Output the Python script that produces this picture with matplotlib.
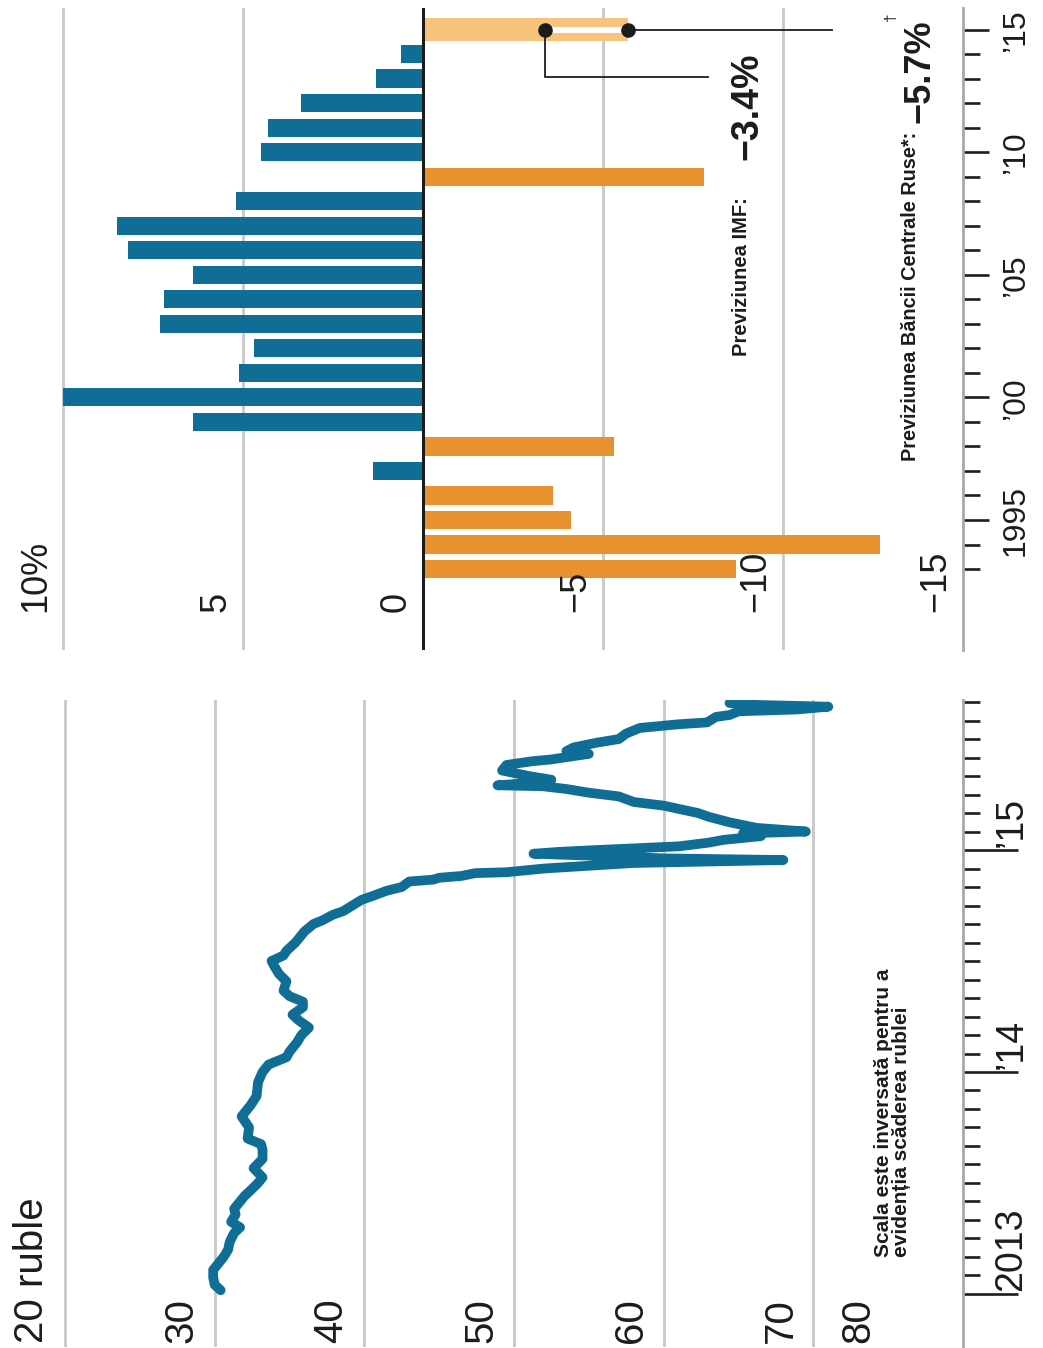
# %%

import numpy as np
import matplotlib
matplotlib.use('Agg')
import matplotlib.pyplot as plt

# %%   ***** DATA *****

# Russia, GDP growth in %, 1993-2014
gdp_years = np.arange(1993, 2015)
gdp_growth = [-8.7, -12.7, -4.1, -3.6, 1.4, -5.3, 6.4, 10.0, 5.1, 4.7, 7.3,
              7.2, 6.4, 8.2, 8.5, 5.2, -7.8, 4.5, 4.3, 3.4, 1.3, 0.6]

# forecasts for 2015
forecast_year = 2015
imf_forecast = -3.4
cbr_forecast = -5.7

# roubles per dollar (inverted scale), time in months since January 2013
rub_month = [0.2, 0.5, 0.9, 1.3, 1.7, 2.0, 2.4, 2.8, 3.3, 3.6, 3.9, 4.3, 4.6,
             5.0, 5.3, 5.6, 6.0, 6.3, 6.8, 7.3, 7.8, 8.1, 8.4, 9.0, 9.6, 10.2,
             10.7, 11.45, 12.0, 12.4, 12.8, 13.1, 13.6, 14.0, 14.4, 14.8,
             15.1, 15.5, 15.8, 16.1, 16.4, 16.9, 17.3, 17.7, 18.0, 18.3,
             18.55, 19.0, 19.6, 20.0, 20.2, 20.5, 20.7, 21.0, 21.3, 21.5,
             21.8, 22.0, 22.3, 22.4, 22.5, 22.6, 22.75, 22.8, 23.0, 23.1,
             23.3, 23.46, 23.55, 23.7, 23.8, 23.9, 24.0, 24.2, 24.4, 24.55,
             24.75, 24.9, 25.0, 25.2, 25.5, 25.8, 26.0, 26.4, 26.6, 26.9,
             27.1, 27.3, 27.45, 27.5, 27.65, 27.8, 28.0, 28.3, 28.6, 28.8,
             28.9, 29.2, 29.35, 29.55, 29.8, 30.0, 30.3, 30.6, 30.8, 30.9,
             31.2, 31.3, 31.5, 31.6, 31.75, 31.85, 31.95]
rub_value = [30.4, 30.0, 29.9, 29.9, 30.3, 30.6, 30.9, 31.0, 31.3, 31.7,
             31.1, 31.4, 31.3, 31.7, 32.0, 32.4, 32.9, 33.2, 32.6, 33.2,
             33.2, 33.1, 32.2, 32.3, 31.8, 32.4, 32.8, 32.9, 33.2, 33.6,
             34.8, 35.0, 35.5, 35.8, 36.3, 35.6, 35.2, 35.9, 35.9, 35.0,
             34.6, 34.8, 34.3, 34.0, 33.8, 34.6, 34.8, 35.4, 36.0, 36.6,
             37.2, 37.9, 38.6, 39.2, 39.8, 40.5, 41.5, 42.5, 43.0, 44.6,
             45.0, 46.5, 47.4, 49.5, 52.0, 54.0, 58.0, 68.0, 60.0, 55.0,
             51.3, 53.0, 55.5, 61.0, 63.0, 64.0, 66.5, 65.3, 69.5, 66.2,
             64.4, 63.0, 62.3, 60.0, 58.0, 57.0, 55.0, 53.5, 51.9, 48.9,
             51.5, 52.5, 51.0, 49.2, 49.5, 51.2, 52.5, 55.0, 53.5, 54.0,
             55.5, 57.0, 57.5, 58.4, 61.0, 62.9, 63.5, 64.4, 65.0, 68.9,
             71.0, 66.0, 64.4]

rub_ticks = [20, 30, 40, 50, 60, 70, 80]
rub_ticklabels = ['20 ruble', '30', '40', '50', '60', '70', '80']
gdp_ticks = [10, 5, 0, -5, -10, -15]
gdp_ticklabels = ['10%', '5', '0', '\u22125', '\u221210', '\u221215']
gdp_year_ticks = [1995, 2000, 2005, 2010, 2015]
gdp_year_labels = ['1995', '\u201900', '\u201905', '\u201910', '\u201915']
rub_year_ticks = [2013, 2014, 2015]
rub_year_labels = ['2013', '\u201914', '\u201915']

# %%   ***** STYLE *****

BLUE = '#106e96'
ORANGE = '#e8922f'
LIGHT = '#f8c37d'
GRID = '#c8c8c8'
AXIS = '#a8a8a8'
INK = '#1c1c1c'
FONT = ['Liberation Sans Narrow', 'DejaVu Sans Condensed', 'Liberation Sans', 'DejaVu Sans']
plt.rcParams['font.family'] = FONT

W, H = 1043, 1348
fig = plt.figure(figsize=(W / 100, H / 100), dpi=100)

# chart is printed turned a quarter turn: time runs upwards
ax_gdp = fig.add_axes([60 / W, 1 - 650 / H, 903 / W, 642 / H])
ax_rub = fig.add_axes([62 / W, 1 - 1347 / H, 901 / W, 647 / H])

for ax in (ax_gdp, ax_rub):
    for side in ('top', 'left', 'bottom'):
        ax.spines[side].set_visible(False)
    ax.spines['right'].set_color(AXIS)
    ax.spines['right'].set_linewidth(2)
    ax.yaxis.tick_right()
    ax.tick_params(axis='x', length=0, labelbottom=False)
    ax.tick_params(axis='y', which='both', width=1.9, color=INK, labelright=False)
    ax.grid(axis='x', color=GRID, lw=2)
    ax.set_axisbelow(True)

# %%   ***** GDP BARS *****

ax_gdp.set_xlim(10.083, -15)
ax_gdp.set_ylim(1989.70, 2015.877)
ax_gdp.set_xticks([t for t in gdp_ticks if t not in (0, -15)])

colors = [BLUE if v > 0 else ORANGE for v in gdp_growth]
ax_gdp.barh(gdp_years, gdp_growth, height=0.74, color=colors, zorder=2)
ax_gdp.barh(forecast_year, cbr_forecast, height=0.94, color=LIGHT, zorder=2)
ax_gdp.plot([imf_forecast, cbr_forecast], [forecast_year] * 2,
            color='white', lw=4.2, solid_capstyle='butt', zorder=3)
ax_gdp.axvline(0, color=INK, lw=2.2, zorder=3)

# leader lines for the two forecasts
ax_gdp.plot([cbr_forecast, -11.36], [forecast_year] * 2, color=INK, lw=1.3, zorder=3)
ax_gdp.plot([imf_forecast, imf_forecast, -7.92],
            [forecast_year, 2013.06, 2013.06], color=INK, lw=1.3, zorder=3)
ax_gdp.plot([imf_forecast, cbr_forecast], [forecast_year] * 2, 'o',
            color=INK, ms=9.5, zorder=4)

ax_gdp.set_yticks(gdp_year_ticks)
ax_gdp.set_yticks(list(gdp_years) + [forecast_year], minor=True)
ax_gdp.tick_params(axis='y', which='major', length=19)
ax_gdp.tick_params(axis='y', which='minor', length=12)

for y, lbl in zip(gdp_year_ticks, gdp_year_labels):
    ax_gdp.annotate(lbl, xy=(1, y), xycoords=('axes fraction', 'data'),
                    xytext=(27, 0), textcoords='offset points', rotation=90,
                    ha='left', va='center', fontsize=23, color=INK)

for v, lbl in zip(gdp_ticks, gdp_ticklabels):
    ax_gdp.annotate(lbl, xy=(v, 0.059), xycoords=('data', 'axes fraction'),
                    xytext=(-7, 0), textcoords='offset points', rotation=90,
                    ha='right', va='bottom', fontsize=26, color=INK)

ax_gdp.text(-8.85, 2001.68, 'Previziunea IMF:', rotation=90, ha='center',
            va='bottom', fontsize=14.5, fontweight='bold', color=INK)
ax_gdp.text(-9.0, 2009.68, '\u22123.4%', rotation=90, ha='center',
            va='bottom', fontsize=27, fontweight='bold', color=INK)
ax_gdp.text(-13.55, 1997.4, 'Previziunea B\u0103ncii Centrale Ruse*:', rotation=90,
            ha='center', va='bottom', fontsize=14.3, fontweight='bold', color=INK)
ax_gdp.text(-13.8, 2011.2, '\u22125.7%', rotation=90, ha='center',
            va='bottom', fontsize=26, fontweight='bold', color=INK)
ax_gdp.text(-13.0, 2015.35, '\u2020', rotation=90, ha='center',
            va='bottom', fontsize=11, color=INK)

# %%   ***** ROUBLE LINE *****

ax_rub.set_xlim(19.8, 80)
ax_rub.set_ylim(2012.761, 2015.676)
ax_rub.set_xticks(rub_ticks[:-1])

rub_time = 2013 + np.array(rub_month) / 12
ax_rub.plot(rub_value, rub_time, color=BLUE, lw=7,
            solid_joinstyle='round', solid_capstyle='round', zorder=3)

months = [2013 + k / 12 for k in range(33)]
ax_rub.set_yticks(rub_year_ticks)
ax_rub.set_yticks([m for m in months if m not in rub_year_ticks], minor=True)
ax_rub.tick_params(axis='y', which='major', length=39.6)
ax_rub.tick_params(axis='y', which='minor', length=12.2)

for y, lbl in zip(rub_year_ticks, rub_year_labels):
    ax_rub.annotate(lbl, xy=(1, y), xycoords=('axes fraction', 'data'),
                    xytext=(22, 2), textcoords='offset points', rotation=90,
                    ha='left', va='bottom', fontsize=27, color=INK)

for v, lbl in zip(rub_ticks, rub_ticklabels):
    dx = -62 if v == 80 else -10
    ax_rub.annotate(lbl, xy=(v, 0.006), xycoords=('data', 'axes fraction'),
                    xytext=(dx, 0), textcoords='offset points', rotation=90,
                    ha='right', va='bottom', fontsize=29, color=INK)

ax_rub.text(75.3, 2013.167, 'Scala este inversat\u0103 pentru a\neviden\u021bia sc\u0103derea rublei',
            rotation=90, ha='center', va='bottom', multialignment='left',
            linespacing=0.95, fontsize=15, fontweight='bold', color=INK)

fig.savefig('out.png', dpi=100, facecolor='white')
